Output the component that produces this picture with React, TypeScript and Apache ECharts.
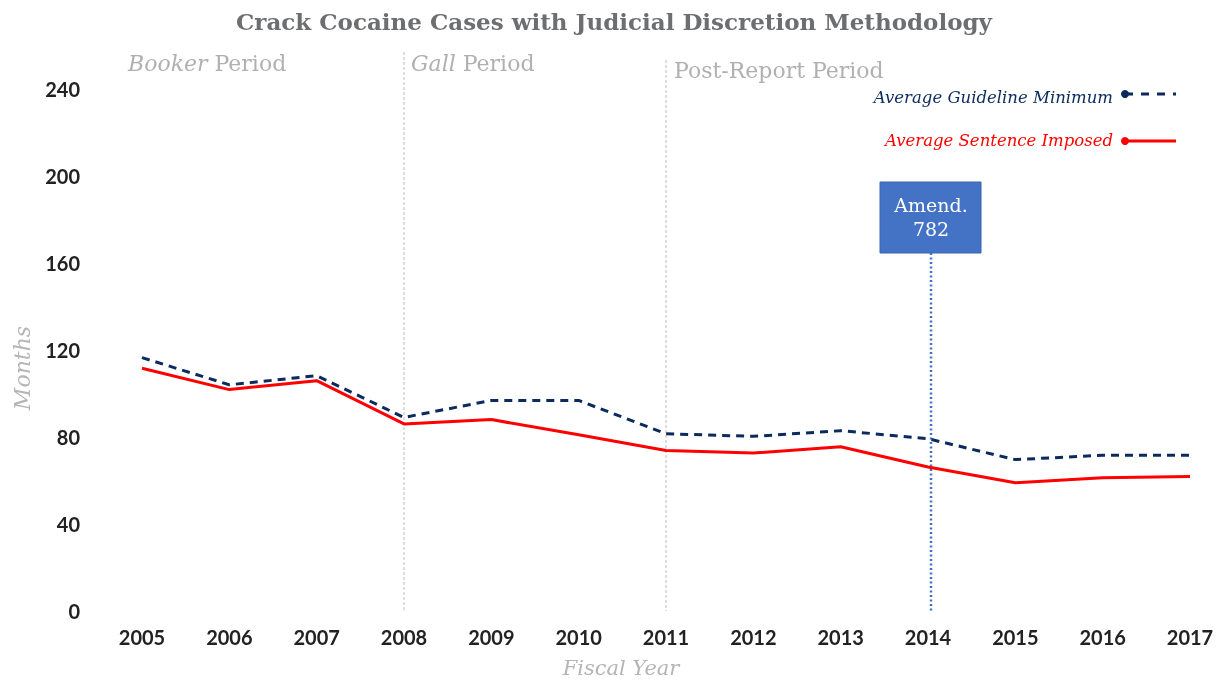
import React, { useEffect, useRef } from "react";
import * as echarts from "echarts";

const years = ["2005","2006","2007","2008","2009","2010","2011","2012","2013","2014","2015","2016","2017"];
const guidelineMin = [116.5, 104, 108.2, 89, 96.8, 96.8, 81.5, 80.3, 82.9, 79.2, 69.6, 71.6, 71.6];
const sentenceImposed = [111.6, 101.8, 105.9, 86, 88, 81, 73.8, 72.6, 75.5, 66.2, 59, 61.3, 61.8];
const yTicks = { min: 0, max: 240, interval: 40 };
const periodLines = [
  { year: "2008" },
  { year: "2011" },
];
const amendYear = "2014";

const NAVY = "#0b2a5e";
const RED = "#ff0000";
const SERIF = "'DejaVu Serif', 'Liberation Serif', serif";

export default function App() {
  const ref = useRef<HTMLDivElement>(null);
  useEffect(() => {
    if (!ref.current) return;
    const chart = echarts.init(ref.current, null, { renderer: "svg" });
    chart.setOption({
      animation: false,
      title: {
        text: "Crack Cocaine Cases with Judicial Discretion Methodology",
        left: "center",
        top: 5,
        textStyle: { fontFamily: SERIF, fontWeight: "bold", fontSize: 23, color: "#6d6e71" },
      },
      grid: { left: 142, right: 38, top: 89, bottom: 74 },
      xAxis: {
        type: "category",
        data: years,
        boundaryGap: false,
        axisLine: { show: false },
        axisTick: { show: false },
        axisLabel: { fontFamily: "Lato", fontWeight: "bold", fontSize: 20, color: "#222", margin: 16 },
      },
      yAxis: {
        type: "value",
        min: yTicks.min,
        max: yTicks.max,
        interval: yTicks.interval,
        splitLine: { show: false },
        axisLine: { show: false },
        axisTick: { show: false },
        axisLabel: { fontFamily: "Lato", fontWeight: "bold", fontSize: 20, color: "#222", margin: 62 },
      },
      series: [
        {
          name: "Average Guideline Minimum",
          type: "line",
          data: guidelineMin,
          symbol: "none",
          lineStyle: { color: NAVY, width: 3, type: [8, 6] },
          z: 3,
        },
        {
          name: "Average Sentence Imposed",
          type: "line",
          data: sentenceImposed,
          symbol: "none",
          lineStyle: { color: RED, width: 3 },
          z: 2,
        },
      ],
    });

    const y0 = chart.convertToPixel({ yAxisIndex: 0 }, 0) as number;
    const xFirst = chart.convertToPixel({ xAxisIndex: 0 }, years[0]) as number;
    const xs = periodLines.map((p) => chart.convertToPixel({ xAxisIndex: 0 }, p.year) as number);
    const xa = (chart.convertToPixel({ xAxisIndex: 0 }, amendYear) as number) + 3;
    const gray = "#bdbdbd";
    const labelStyle = (txt: string, x: number, y: number) => ({
      type: "text",
      x,
      y,
      style: {
        text: txt,
        rich: {
          i: { fontFamily: SERIF, fontStyle: "italic", fontSize: 22, fill: "#b0b0b0" },
          n: { fontFamily: SERIF, fontSize: 22, fill: "#b0b0b0" },
        },
        verticalAlign: "middle",
      },
    });
    const legendRight = 1176;
    chart.setOption({
      graphic: [
        ...xs.map((x, i) => ({
          type: "line",
          shape: { x1: x, y1: i === 0 ? 52 : 60, x2: x, y2: y0 },
          style: { stroke: gray, lineWidth: 1, lineDash: [3, 2] },
          z: 1,
        })),
        labelStyle("{i|Booker }{n|Period}", xFirst - 14, 63),
        labelStyle("{i|Gall }{n|Period}", xs[0] + 7, 63),
        labelStyle("{n|Post-Report Period}", xs[1] + 8, 70),
        {
          type: "text",
          x: 621,
          y: 668,
          style: {
            text: "Fiscal Year",
            fill: "#b5b5b5",
            fontFamily: SERIF,
            fontStyle: "italic",
            fontSize: 21,
            align: "center",
            verticalAlign: "middle",
          },
        },
        {
          type: "text",
          x: 22,
          y: 368,
          rotation: Math.PI / 2,
          style: {
            text: "Months",
            fill: "#b5b5b5",
            fontFamily: SERIF,
            fontStyle: "italic",
            fontSize: 22,
            align: "center",
            verticalAlign: "middle",
          },
        },
        {
          type: "line",
          shape: { x1: xa, y1: 253, x2: xa, y2: y0 },
          style: { stroke: "#4472c4", lineWidth: 2.5, lineDash: [2, 2.5] },
        },
        {
          type: "rect",
          shape: { x: xa - 51, y: 182, width: 101, height: 71 },
          style: { fill: "#4472c4", stroke: "#3a64ad", lineWidth: 1 },
        },
        {
          type: "text",
          x: xa,
          y: 217,
          style: {
            text: "Amend.\n782",
            fill: "#fff",
            fontFamily: SERIF,
            fontSize: 19,
            lineHeight: 24,
            align: "center",
            verticalAlign: "middle",
          },
        },
        {
          type: "text",
          x: legendRight - 63,
          y: 97,
          style: {
            text: "Average Guideline Minimum",
            fill: NAVY,
            fontFamily: SERIF,
            fontStyle: "italic",
            fontSize: 16.5,
            align: "right",
            verticalAlign: "middle",
          },
        },
        {
          type: "circle",
          shape: { cx: legendRight - 51, cy: 94, r: 4 },
          style: { fill: NAVY },
        },
        {
          type: "line",
          shape: { x1: legendRight - 51, y1: 94, x2: legendRight, y2: 94 },
          style: { stroke: NAVY, lineWidth: 3, lineDash: [8, 8] },
        },
        {
          type: "text",
          x: legendRight - 63,
          y: 140,
          style: {
            text: "Average Sentence Imposed",
            fill: RED,
            fontFamily: SERIF,
            fontStyle: "italic",
            fontSize: 16.5,
            align: "right",
            verticalAlign: "middle",
          },
        },
        {
          type: "circle",
          shape: { cx: legendRight - 51, cy: 141, r: 4 },
          style: { fill: RED },
        },
        {
          type: "line",
          shape: { x1: legendRight - 51, y1: 141, x2: legendRight, y2: 141 },
          style: { stroke: RED, lineWidth: 3 },
        },
      ],
    });
    return () => chart.dispose();
  }, []);
  return <div ref={ref} style={{ position: "fixed", left: 0, top: 0, width: 1228, height: 685 }} />;
}
